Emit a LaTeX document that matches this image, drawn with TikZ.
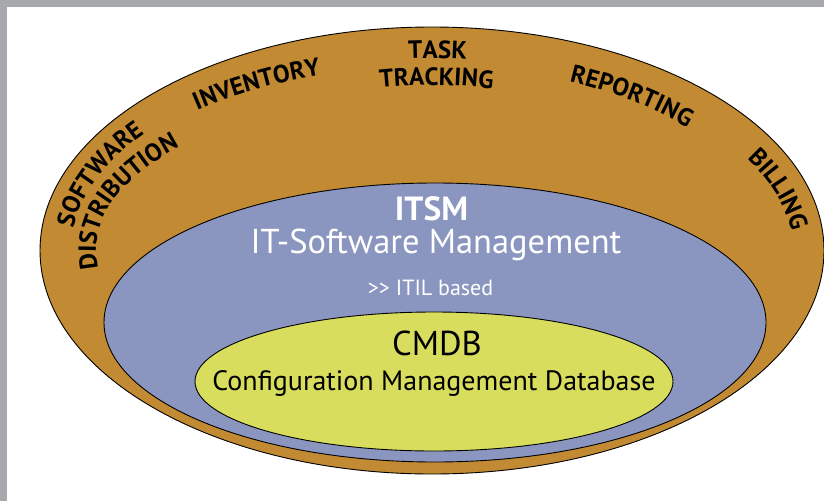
\documentclass[tikz,border=0pt]{standalone}
\usepackage{fontspec}
\setmainfont{PT Sans}
\usetikzlibrary{decorations.text}
\definecolor{ringc}{RGB}{194,138,50}
\definecolor{itsmc}{RGB}{139,150,192}
\definecolor{cmdbc}{RGB}{216,221,94}
\definecolor{framec}{RGB}{168,169,173}
\tikzset{
  layer/.style={draw=black, line width=0.9pt},
  ringlabel/.style={decorate, decoration={text along path, text align=center,
      text={|\bfseries\fontsize{25}{28}\selectfont|#1}}},
  whitetext/.style={anchor=base, text=white, inner sep=0pt},
  blacktext/.style={anchor=base, text=black, inner sep=0pt},
}
\begin{document}
\begin{tikzpicture}[x=1pt,y=1pt]
\useasboundingbox (0,0) rectangle (824,-501);
\fill[white] (0,0) rectangle (824,-501);
\fill[framec] (0,0) rectangle (824,-7);
\fill[framec] (0,0) rectangle (7,-501);
\coordinate (O) at (432,-250.5);
\coordinate (B) at (435,-322.5);
\coordinate (Y) at (434,-381.5);
% layers
\draw[layer, fill=ringc] (O) ellipse [x radius=392, y radius=223.5];
\draw[layer, fill=itsmc] (B) ellipse [x radius=331, y radius=139.5];
\draw[layer, fill=cmdbc] (Y) ellipse [x radius=239, y radius=69.5];
% inner texts
\node[whitetext, font=\bfseries\fontsize{33.5}{36}\selectfont] (itsm) at (431.5,-220) {ITSM};
\node[whitetext, font=\fontsize{34.5}{38}\selectfont] (itsmlong) at (436,-253) {IT-Software Management};
\node[whitetext, font=\fontsize{22}{26}\selectfont] (itil) at (430.5,-295) {>{}> ITIL based};
\node[blacktext, font=\fontsize{34.5}{38}\selectfont] (cmdb) at (437,-355) {CMDB};
\node[blacktext, font=\fontsize{28}{32}\selectfont] (cmdblong) at (434,-390) {Configuration Management Database};
% ring labels
\path[ringlabel=INVENTORY] ([shift={(O)}]135.2:362 and 184.5) arc[start angle=135.2, end angle=103.9, x radius=362, y radius=184.5];
\path[ringlabel=TASK] ([shift={(O)}]115:337.5 and 192.4) arc[start angle=115, end angle=63, x radius=337.5, y radius=192.4];
\path[ringlabel=TRACKING] ([shift={(O)}]125:290 and 165.4) arc[start angle=125, end angle=53, x radius=290, y radius=165.4];
\path[ringlabel=REPORTING] ([shift={(O)}]70.3:341.5 and 184.7) arc[start angle=70.3, end angle=36.6, x radius=341.5, y radius=184.7];
\path[ringlabel=BILLING] ([shift={(O)}]35.9:361.2 and 187.3) arc[start angle=35.9, end angle=-2.9, x radius=361.2, y radius=187.3];
\path[ringlabel=SOFTWARE] ([shift={(O)}]183.4:361 and 193) arc[start angle=183.4, end angle=135.7, x radius=361, y radius=193];
\path[ringlabel=DISTRIBUTION] ([shift={(O)}]196.2:336 and 157) arc[start angle=196.2, end angle=132.5, x radius=336, y radius=157];
\end{tikzpicture}
\end{document}
